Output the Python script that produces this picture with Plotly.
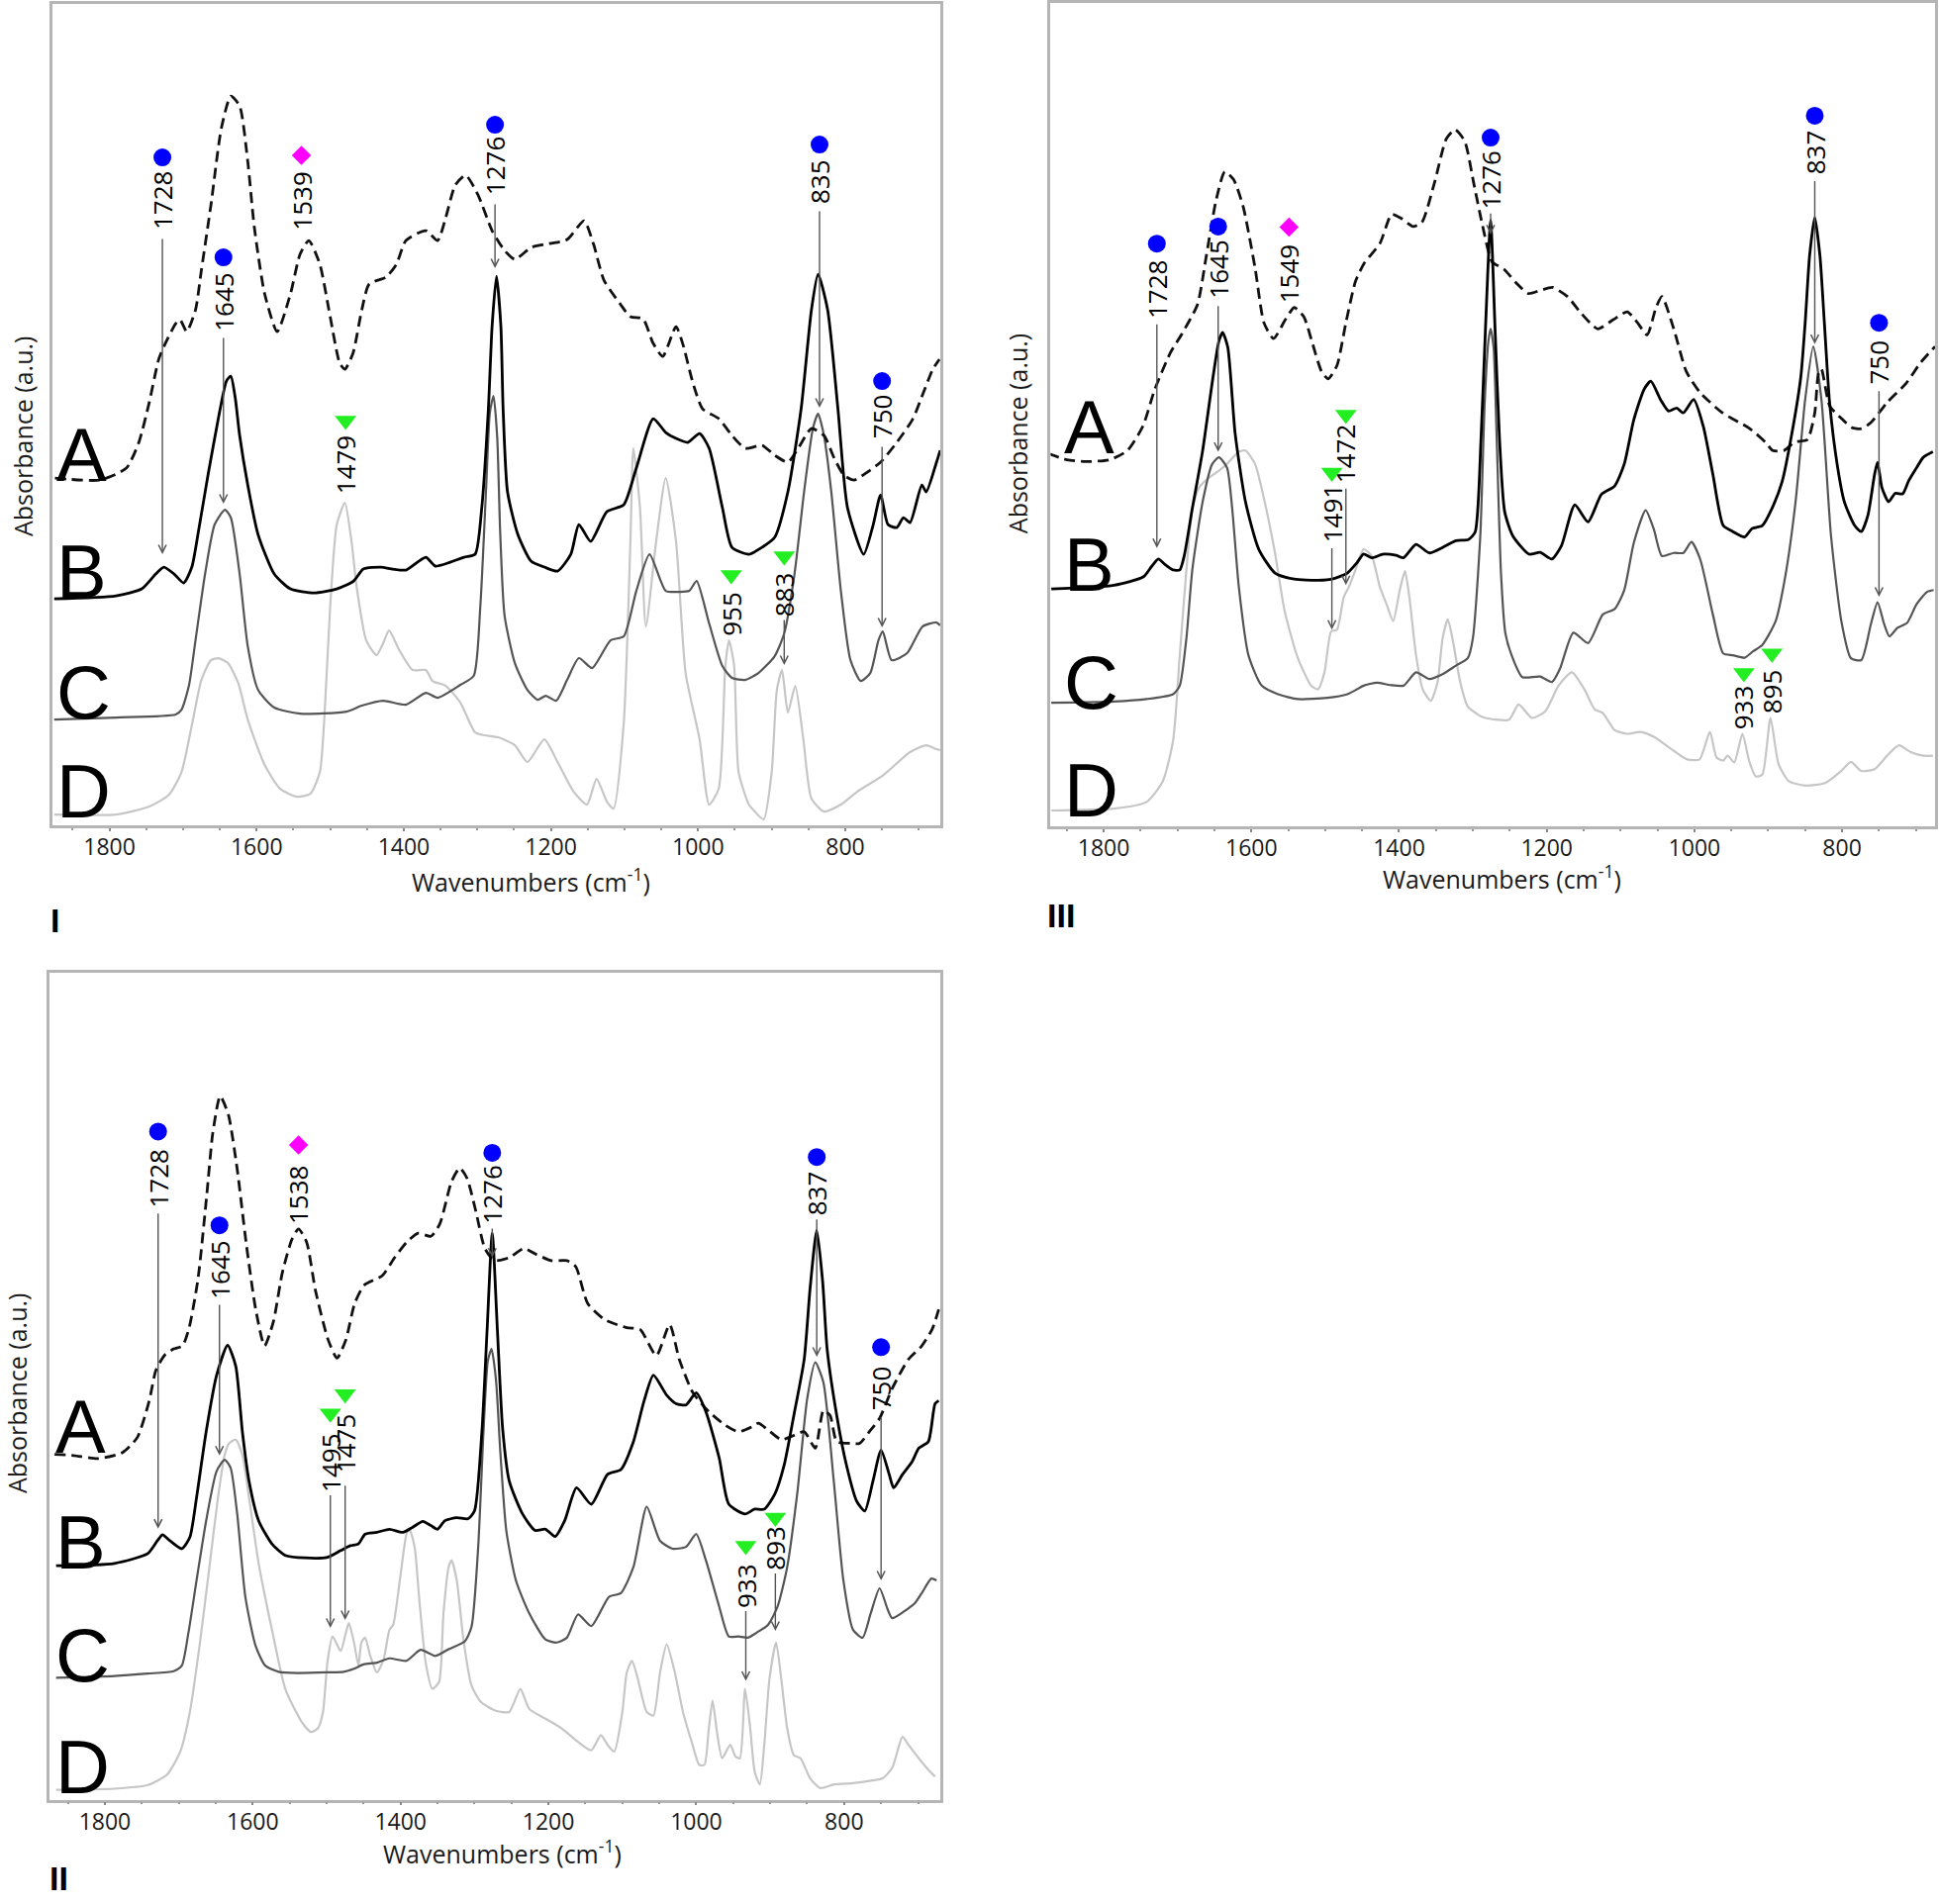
import plotly.graph_objects as go

# ======================= DATA =======================
# Panel I  (wavenumber cm-1, absorbance a.u.)
I_A = [(1874,354),(1813,352),(1777,364),(1760,390),(1746,430),(1733,474),(1724,490),(1710,510),(1704,514),(1695,502),(1683,524),(1675,564),(1662,630),(1648,707),(1635,740),(1623,730),(1612,674),(1603,607),(1589,540),(1572,502),(1554,540),(1541,580),(1529,594),(1514,570),(1500,517),(1487,470),(1480,464),(1469,480),(1457,524),(1447,550),(1424,557),(1410,570),(1397,594),(1370,604),(1354,594),(1343,617),(1330,650),(1316,660),(1299,640),(1280,604),(1263,584),(1249,575),(1227,587),(1209,590),(1178,595),(1155,614),(1142,590),(1128,554),(1106,530),(1092,517),(1075,515),(1061,490),(1048,477),(1030,507),(1021,490),(1007,450),(994,424),(972,414),(954,397),(936,384),(913,387),(896,377),(878,370),(864,384),(846,404),(829,397),(815,374),(802,357),(788,352),(770,360),(752,370),(730,390),(708,414),(694,440),(681,464),(672,474)]
I_B = [(1875,232),(1791,235),(1756,242),(1737,257),(1726,264),(1712,257),(1699,248),(1688,264),(1679,300),(1666,357),(1652,414),(1641,452),(1635,457),(1629,435),(1623,397),(1612,347),(1598,297),(1576,257),(1554,242),(1522,238),(1491,242),(1468,250),(1455,262),(1431,264),(1415,262),(1397,261),(1370,274),(1357,265),(1318,274),(1303,277),(1294,324),(1285,424),(1280,507),(1274,558),(1268,507),(1265,424),(1259,340),(1245,297),(1227,270),(1209,264),(1191,260),(1173,277),(1162,307),(1146,290),(1124,320),(1101,327),(1084,364),(1061,414),(1044,400),(1030,394),(1014,390),(998,399),(985,384),(967,324),(954,284),(931,277),(913,284),(896,294),(878,340),(860,424),(846,524),(837,560),(824,524),(810,424),(797,324),(775,277),(762,307),(752,337),(742,307),(730,304),(721,314),(712,309),(696,347),(690,340),(676,370),(671,382)]
I_C = [(1875,110),(1791,112),(1710,115),(1702,120),(1692,144),(1683,190),(1670,257),(1657,307),(1643,322),(1635,314),(1623,257),(1612,184),(1598,140),(1576,122),(1541,116),(1478,118),(1457,124),(1428,129),(1397,125),(1370,137),(1354,132),(1323,145),(1305,154),(1296,224),(1288,345),(1283,420),(1278,437),(1273,395),(1269,300),(1263,215),(1249,167),(1232,140),(1218,130),(1207,134),(1193,129),(1178,150),(1162,172),(1144,162),(1119,190),(1101,194),(1084,240),(1066,277),(1044,240),(1025,239),(1012,240),(1002,250),(985,207),(967,164),(954,152),(936,150),(918,157),(896,174),(883,197),(869,257),(856,340),(844,404),(837,419),(829,397),(819,340),(806,240),(793,170),(779,149),(766,157),(755,190),(749,199),(737,170),(716,177),(695,204),(676,208),(671,205)]
I_D = [(1875,14),(1791,14),(1746,22),(1719,34),(1702,57),(1688,104),(1675,150),(1662,170),(1652,172),(1639,167),(1625,147),(1612,110),(1589,64),(1568,40),(1545,32),(1527,35),(1514,57),(1507,124),(1500,224),(1491,307),(1480,329),(1471,290),(1464,244),(1451,190),(1437,175),(1428,187),(1420,200),(1406,180),(1388,160),(1370,160),(1361,149),(1343,144),(1323,127),(1303,97),(1290,94),(1272,92),(1249,84),(1232,67),(1209,90),(1191,67),(1169,37),(1151,24),(1138,50),(1124,27),(1115,20),(1101,107),(1092,290),(1088,384),(1079,324),(1071,204),(1057,290),(1044,354),(1030,290),(1017,157),(998,90),(985,24),(972,40),(963,164),(958,190),(951,164),(945,57),(931,24),(923,17),(911,9),(900,57),(893,140),(886,160),(878,117),(868,144),(857,90),(846,30),(829,17),(806,24),(784,37),(748,54),(712,77),(690,84),(676,80),(671,79)]

# Panel III
III_A = [(1875,615),(1850,605),(1825,602),(1792,605),(1768,620),(1747,660),(1731,720),(1710,780),(1694,812),(1673,860),(1661,940),(1648,1030),(1636,1078),(1624,1065),(1611,1020),(1595,920),(1583,830),(1570,804),(1554,835),(1542,855),(1529,840),(1517,795),(1505,750),(1496,738),(1484,760),(1472,830),(1459,898),(1447,928),(1426,960),(1410,1008),(1398,1002),(1381,988),(1369,995),(1352,1060),(1336,1132),(1324,1147),(1311,1128),(1299,1060),(1287,990),(1274,930),(1258,918),(1241,895),(1225,878),(1209,883),(1192,888),(1172,873),(1153,845),(1131,820),(1110,835),(1091,848),(1077,830),(1064,810),(1052,855),(1044,873),(1028,820),(1011,750),(992,715),(962,682),(926,657),(904,634),(894,620),(879,620),(864,634),(847,638),(837,682),(832,747),(828,754),(817,694),(801,673),(787,658),(774,656),(761,666),(739,699),(713,731),(694,764),(674,791)]
III_B = [(1871,393),(1786,399),(1746,413),(1735,430),(1726,442),(1717,433),(1706,424),(1697,424),(1691,447),(1680,525),(1666,620),(1653,732),(1644,800),(1639,814),(1632,790),(1622,648),(1608,536),(1590,458),(1568,419),(1542,409),(1510,407),(1488,410),(1470,419),(1457,436),(1448,450),(1437,444),(1421,450),(1404,448),(1394,444),(1377,466),(1359,452),(1341,461),(1323,472),(1306,474),(1297,486),(1289,640),(1283,820),(1276,998),(1270,820),(1264,640),(1257,520),(1246,480),(1224,450),(1209,453),(1193,442),(1180,464),(1162,531),(1144,503),(1126,548),(1108,562),(1095,598),(1082,671),(1068,721),(1059,734),(1046,704),(1035,685),(1024,690),(1015,682),(1001,704),(988,660),(975,581),(961,497),(948,487),(932,478),(922,492),(908,497),(895,525),(881,570),(868,648),(856,740),(850,830),(844,940),(837,1003),(830,940),(824,830),(817,700),(806,592),(797,536),(783,497),(774,487),(765,514),(756,581),(752,601),(746,559),(737,536),(728,550),(718,549),(710,570),(699,592),(690,609),(677,618)]
III_C = [(1871,206),(1786,208),(1742,212),(1706,220),(1697,234),(1688,312),(1680,424),(1666,536),(1653,598),(1644,609),(1633,592),(1626,525),(1617,396),(1604,284),(1586,234),(1564,220),(1537,212),(1497,214),(1470,220),(1457,228),(1448,234),(1430,239),(1412,235),(1394,234),(1377,256),(1359,245),(1341,253),(1323,267),(1307,279),(1300,312),(1290,480),(1284,700),(1279,800),(1276,820),(1272,790),(1268,650),(1262,420),(1256,320),(1246,279),(1233,248),(1209,249),(1193,240),(1182,262),(1164,321),(1144,304),(1124,351),(1108,360),(1095,391),(1082,469),(1066,522),(1055,491),(1044,447),(1028,452),(1015,452),(1004,470),(992,441),(975,351),(961,287),(948,284),(932,280),(921,290),(908,301),(890,340),(877,413),(863,536),(850,704),(839,791),(828,704),(815,480),(801,340),(788,279),(774,276),(761,335),(752,371),(743,335),(736,315),(725,329),(712,337),(699,368),(685,388),(676,391)]
III_D = [(1871,29),(1786,32),(1742,43),(1720,77),(1706,144),(1697,284),(1688,424),(1680,525),(1671,559),(1657,576),(1644,587),(1633,598),(1617,618),(1608,620),(1595,598),(1582,536),(1568,452),(1555,357),(1537,279),(1519,234),(1510,228),(1501,256),(1492,323),(1484,326),(1475,379),(1468,396),(1459,424),(1448,458),(1437,447),(1426,396),(1417,368),(1408,340),(1399,391),(1392,422),(1386,379),(1377,284),(1368,228),(1357,209),(1348,239),(1341,312),(1334,343),(1327,307),(1317,239),(1307,200),(1288,183),(1267,178),(1251,178),(1238,203),(1220,181),(1202,192),(1184,234),(1166,256),(1149,228),(1135,195),(1124,189),(1108,161),(1091,155),(1073,158),(1055,150),(1028,127),(1010,113),(993,113),(979,158),(970,116),(961,111),(955,119),(946,108),(935,155),(926,111),(917,85),(908,88),(897,181),(886,105),(872,77),(850,70),(823,74),(801,94),(788,109),(774,94),(756,97),(739,119),(723,136),(707,125),(690,119),(677,119)]

# Panel II
II_A = [(1868,567),(1842,565),(1809,560),(1776,570),(1756,595),(1740,655),(1731,705),(1719,730),(1707,740),(1695,745),(1686,775),(1674,855),(1662,995),(1654,1095),(1644,1155),(1633,1125),(1621,1035),(1609,915),(1596,805),(1584,745),(1572,785),(1560,865),(1547,920),(1538,937),(1527,915),(1515,835),(1498,755),(1486,725),(1474,755),(1462,815),(1449,845),(1425,860),(1408,890),(1392,915),(1376,930),(1359,925),(1347,945),(1331,1015),(1320,1037),(1310,1020),(1298,965),(1286,905),(1273,885),(1253,890),(1233,905),(1216,895),(1196,885),(1175,885),(1163,875),(1147,815),(1124,788),(1094,775),(1076,772),(1054,729),(1036,780),(1023,723),(1005,669),(983,637),(961,615),(943,604),(925,612),(916,618),(903,607),(885,591),(872,596),(854,604),(839,577),(828,639),(819,631),(810,588),(792,585),(779,585),(766,604),(752,626),(735,675),(713,723),(695,745),(681,772),(672,805)]
II_B = [(1866,384),(1787,388),(1742,404),(1729,425),(1722,435),(1712,425),(1696,412),(1685,431),(1676,496),(1663,604),(1649,696),(1634,746),(1623,712),(1614,604),(1605,523),(1592,458),(1574,420),(1556,401),(1530,397),(1499,398),(1481,409),(1468,417),(1457,420),(1448,436),(1432,439),(1415,444),(1397,439),(1384,447),(1370,457),(1359,450),(1350,444),(1340,458),(1324,463),(1309,461),(1300,474),(1290,604),(1283,770),(1276,930),(1269,770),(1262,610),(1253,523),(1235,469),(1218,442),(1204,444),(1191,432),(1178,458),(1162,512),(1142,485),(1120,534),(1102,542),(1085,588),(1071,653),(1058,697),(1040,664),(1027,650),(1014,648),(1000,668),(987,637),(969,561),(956,485),(934,469),(921,477),(908,477),(894,501),(881,550),(868,631),(854,723),(846,840),(837,935),(829,850),(823,740),(810,631),(797,550),(783,490),(772,474),(761,523),(750,574),(739,534),(733,512),(721,534),(708,555),(699,577),(686,588),(677,650),(672,655)]
II_C = [(1866,200),(1787,203),(1742,207),(1707,211),(1696,220),(1687,274),(1676,360),(1663,458),(1649,539),(1638,558),(1630,545),(1621,469),(1610,333),(1596,252),(1583,220),(1565,210),(1539,208),(1499,209),(1477,210),(1463,215),(1450,222),(1432,225),(1415,232),(1392,228),(1373,246),(1353,236),(1335,247),(1313,260),(1304,284),(1295,415),(1288,600),(1282,720),(1277,740),(1271,690),(1265,570),(1257,442),(1244,360),(1226,306),(1204,263),(1189,258),(1175,266),(1160,304),(1142,285),(1118,333),(1102,339),(1085,382),(1067,481),(1049,425),(1032,412),(1014,415),(1000,436),(987,393),(969,317),(956,268),(943,268),(930,266),(916,276),(903,287),(890,317),(877,382),(863,507),(850,658),(839,718),(828,685),(814,523),(801,360),(788,279),(775,266),(764,306),(752,347),(741,312),(735,298),(719,309),(704,323),(695,339),(682,363),(675,360)]
II_D = [(1866,16),(1787,18),(1742,24),(1716,41),(1698,79),(1685,144),(1672,252),(1658,388),(1647,496),(1638,566),(1632,585),(1623,591),(1614,566),(1605,496),(1592,388),(1574,279),(1556,182),(1534,128),(1521,111),(1512,117),(1505,144),(1499,225),(1492,268),(1481,244),(1474,274),(1470,290),(1463,258),(1457,220),(1453,258),(1448,266),(1441,236),(1432,209),(1423,230),(1415,279),(1410,287),(1401,360),(1392,436),(1388,444),(1381,415),(1375,333),(1366,225),(1357,182),(1348,193),(1342,306),(1335,382),(1331,393),(1324,360),(1315,263),(1304,187),(1291,160),(1271,146),(1253,144),(1238,182),(1226,149),(1204,133),(1182,117),(1160,95),(1142,81),(1129,106),(1120,90),(1111,79),(1100,144),(1094,209),(1087,228),(1080,203),(1067,144),(1058,138),(1049,209),(1040,255),(1029,209),(1018,144),(1005,90),(996,57),(989,57),(983,117),(978,163),(972,111),(965,68),(954,90),(947,71),(941,68),(934,182),(927,117),(921,46),(914,25),(908,90),(901,198),(892,258),(885,198),(877,117),(868,73),(859,68),(846,35),(832,19),(814,25),(788,27),(770,30),(748,35),(735,52),(721,103),(713,90),(699,68),(686,49),(677,38)]

# Peak annotations: label, marker kind (c=component circle, d=diamond, t=triangle)
I_labels  = ["1728", "1645", "1539", "1276", "835", "750", "1479", "955", "883"]
I_kinds   = ["c", "c", "d", "c", "c", "c", "t", "t", "t"]
I_mark_y  = [678, 577, 680, 711, 691, 452, 412, 256, 275]
I_text_y  = [634, 532, 634, 669, 654, 416, 367, 217, 236]
I_arr_top = [597, 497, None, 632, 625, 387, None, None, 212]
I_arr_tip = [277, 328, None, 566, 425, 203, None, None, 165]

III_labels  = ["1728", "1645", "1549", "1276", "837", "750", "1491", "1472", "933", "895"]
III_kinds   = ["c", "c", "d", "c", "c", "c", "t", "t", "t", "t"]
III_mark_y  = [960, 988, 987, 1134, 1170, 830, 584, 679, 255, 287]
III_text_y  = [885, 918, 910, 1065, 1110, 765, 517, 615, 199, 224]
III_arr_top = [830, 860, None, 1012, 1065, 720, 462, 560, None, None]
III_arr_tip = [460, 618, None, 975, 795, 380, 326, 399, None, None]

II_labels  = ["1728", "1645", "1538", "1276", "837", "750", "1495", "1475", "933", "893"]
II_kinds   = ["c", "c", "d", "c", "c", "c", "t", "t", "t", "t"]
II_mark_y  = [1097, 943, 1075, 1062, 1055, 743, 634, 666, 417, 463]
II_text_y  = [1020, 870, 993, 993, 995, 675, 553, 585, 351, 413]
II_arr_top = [965, 815, None, 940, 955, 630, 502, 518, 312, 374]
II_arr_tip = [445, 565, None, 890, 727, 360, 282, 295, 195, 277]

curve_names = ["A", "B", "C", "D"]
I_letter_y = [378, 260, 138, 38]
III_letter_y = [658, 433, 240, 62]
II_letter_y = [613, 423, 238, 53]

tick_values = [1800, 1600, 1400, 1200, 1000, 800]

# ======================= FIGURE =======================
fig = go.Figure()

STYLE = {
    "A": dict(color="#111111", width=2.8, dash="11px,6px"),
    "B": dict(color="#000000", width=2.8),
    "C": dict(color="#555555", width=2.2),
    "D": dict(color="#c6c6c6", width=2.2),
}
MARK = {
    "c": dict(symbol="circle", size=18, color="#0000ff"),
    "d": dict(symbol="diamond", size=15, color="#ff00ff"),
    "t": dict(symbol="triangle-down", size=19, color="#22ee22"),
}

panels = [
    dict(ax="", curves=dict(A=I_A, B=I_B, C=I_C, D=I_D), labels=I_labels, kinds=I_kinds,
         mark_y=I_mark_y, text_y=I_text_y, top=I_arr_top, tip=I_arr_tip,
         letter_y=I_letter_y, letter_x=1875),
    dict(ax="2", curves=dict(A=III_A, B=III_B, C=III_C, D=III_D), labels=III_labels, kinds=III_kinds,
         mark_y=III_mark_y, text_y=III_text_y, top=III_arr_top, tip=III_arr_tip,
         letter_y=III_letter_y, letter_x=1856),
    dict(ax="3", curves=dict(A=II_A, B=II_B, C=II_C, D=II_D), labels=II_labels, kinds=II_kinds,
         mark_y=II_mark_y, text_y=II_text_y, top=II_arr_top, tip=II_arr_tip,
         letter_y=II_letter_y, letter_x=1870),
]

annotations = []
for p in panels:
    xa, ya = "x" + p["ax"], "y" + p["ax"]
    for name in ["D", "C", "A", "B"]:
        pts = p["curves"][name]
        fig.add_trace(go.Scatter(
            x=[a for a, b in pts], y=[b for a, b in pts], mode="lines",
            line=dict(shape="spline", smoothing=0.6, **STYLE[name]),
            xaxis=xa, yaxis=ya, showlegend=False, hoverinfo="skip"))
    for kind in ["c", "d", "t"]:
        xs = [float(l) for l, k in zip(p["labels"], p["kinds"]) if k == kind]
        ys = [m for m, k in zip(p["mark_y"], p["kinds"]) if k == kind]
        if xs:
            fig.add_trace(go.Scatter(x=xs, y=ys, mode="markers",
                                     marker=dict(symbol=MARK[kind]["symbol"], size=MARK[kind]["size"],
                                                 color=MARK[kind]["color"], line=dict(width=0)),
                                     xaxis=xa, yaxis=ya, showlegend=False, hoverinfo="skip"))
    for lab, ty, top, tip in zip(p["labels"], p["text_y"], p["top"], p["tip"]):
        wn = float(lab)
        annotations.append(dict(x=wn, y=ty, xref=xa, yref=ya, text=lab, textangle=-90,
                                showarrow=False, font=dict(family="Open Sans", size=26, color="#000"),
                                xanchor="center", yanchor="middle"))
        if top is not None:
            annotations.append(dict(x=wn, y=tip, ax=wn, ay=top, xref=xa, yref=ya, axref=xa, ayref=ya,
                                    text="", showarrow=True, arrowhead=5, arrowsize=1.1,
                                    arrowwidth=1.4, arrowcolor="#555555", standoff=0, startstandoff=0))
    for name, ly in zip(curve_names, p["letter_y"]):
        annotations.append(dict(x=p["letter_x"], y=ly, xref=xa, yref=ya, text=name, showarrow=False,
                                xanchor="left", yanchor="middle",
                                font=dict(family="Liberation Sans", size=76, color="#000")))

# Axis titles and panel labels
xt_font = dict(family="Open Sans", size=25, color="#1a1a1a")
for (px, py) in [(0.2741, 0.5375), (0.7744, 0.5392), (0.2593, 0.0275)]:
    annotations.append(dict(x=px, y=py, xref="paper", yref="paper", showarrow=False,
                            text="Wavenumbers (cm<sup>-1</sup>)", font=xt_font,
                            xanchor="center", yanchor="middle"))
for (px, py) in [(0.01174, 0.7708), (0.5248, 0.7723), (0.00868, 0.2682)]:
    annotations.append(dict(x=px, y=py, xref="paper", yref="paper", showarrow=False,
                            text="Absorbance (a.u.)", textangle=-90,
                            font=dict(family="Open Sans", size=25, color="#1a1a1a"),
                            xanchor="center", yanchor="middle"))
for txt, (px, py) in [("I", (0.0281, 0.5166)), ("III", (0.5472, 0.5192)), ("II", (0.0306, 0.0135))]:
    annotations.append(dict(x=px, y=py, xref="paper", yref="paper", showarrow=False,
                            text="<b>%s</b>" % txt,
                            font=dict(family="Liberation Sans", size=34, color="#000"),
                            xanchor="center", yanchor="middle"))

BOX = "#b5b5b5"

def xaxis(dom, rng, anchor):
    return dict(domain=dom, range=rng, anchor=anchor, tickvals=tick_values,
                ticks="outside", ticklen=3, tickwidth=2, tickcolor="#888888",
                showline=True, linecolor=BOX, linewidth=2.5, mirror=True,
                showgrid=False, zeroline=False, ticklabelstandoff=-3,
                tickfont=dict(family="Open Sans", size=23, color="#1a1a1a"),
                minor=dict(dtick=50, ticks="outside", ticklen=2, tickwidth=2,
                           tickcolor="#999999", showgrid=False))

def yaxis(dom, rng, anchor):
    return dict(domain=dom, range=rng, anchor=anchor, showline=True, linecolor=BOX,
                linewidth=2.5, mirror=True, showticklabels=False, ticks="",
                showgrid=False, zeroline=False)

fig.update_layout(
    width=1959, height=1924, margin=dict(l=0, r=0, t=0, b=0),
    paper_bgcolor="white", plot_bgcolor="white", showlegend=False,
    xaxis=xaxis([0.0272, 0.4849], [1877, 671], "y"),
    yaxis=yaxis([0.5665, 0.9979], [3, 833], "x"),
    xaxis2=xaxis([0.5418, 0.9980], [1872, 674], "y2"),
    yaxis2=yaxis([0.5660, 0.9984], [3, 1355], "x2"),
    xaxis3=xaxis([0.0255, 0.4849], [1875, 670], "y3"),
    yaxis3=yaxis([0.0548, 0.4889], [0, 1357], "x3"),
    annotations=annotations,
)

fig.write_html("out.html", config={"displayModeBar": False},
               post_script="document.body.style.margin='0px';")
